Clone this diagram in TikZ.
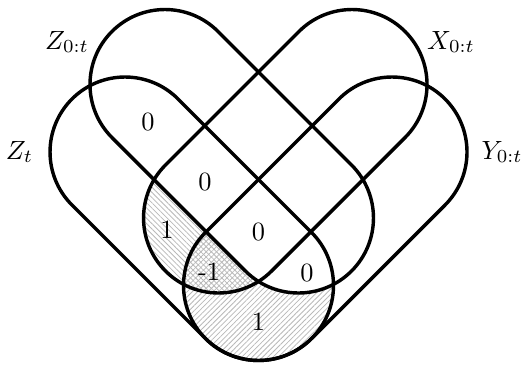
\documentclass[tikz,border=0pt]{standalone}
\usetikzlibrary{calc,patterns.meta}
\newcommand\stad[3]{($(#1)+({#3+90}:1)$) -- ($(#2)+({#3+90}:1)$) arc[start angle={#3+90}, end angle={#3-90}, radius=1] -- ($(#1)+({#3-90}:1)$) arc[start angle={#3-90}, end angle={#3-270}, radius=1] -- cycle}
\begin{document}
\begin{tikzpicture}[line width=1.3pt,
  hatchne/.style={pattern={Lines[angle=45,distance=1.4pt,line width=0.3pt]},pattern color=gray!55},
  hatchnw/.style={pattern={Lines[angle=-45,distance=1.4pt,line width=0.3pt]},pattern color=gray!55},
  lab/.style={inner sep=0pt}]
\useasboundingbox[fill=white] (-3.447,-1.047) rectangle (3.58,3.807);
\coordinate (C) at (0,0);
\coordinate (Zt) at (-1.78,1.78);
\coordinate (Y) at (1.78,1.78);
\coordinate (Za) at (-1.247,2.68);
\coordinate (Zb) at (0.533,0.9);
\coordinate (Xa) at (1.247,2.68);
\coordinate (Xb) at (-0.533,0.9);
% hatching
\begin{scope}
  \clip \stad{Zt}{C}{-45};
  \clip \stad{Xa}{Xb}{-135};
  \fill[hatchnw] (-4,-2) rectangle (4,4);
\end{scope}
\begin{scope}
  \clip \stad{Zt}{C}{-45};
  \clip \stad{Y}{C}{-135};
  \fill[hatchne] (-4,-2) rectangle (4,4);
\end{scope}
\fill[white] \stad{Za}{Zb}{-45};
% outlines
\draw \stad{Zt}{C}{-45};
\draw \stad{Y}{C}{-135};
\draw \stad{Za}{Zb}{-45};
\draw \stad{Xa}{Xb}{-135};
% set labels
\node[lab] (lZ0) at (-2.553,3.247) {$Z_{0:t}$};
\node[lab] (lX0) at (2.567,3.247) {$X_{0:t}$};
\node[lab] (lZt) at (-3.187,1.78) {$Z_t$};
\node[lab] (lY0) at (3.247,1.78) {$Y_{0:t}$};
% region values
\node[lab] (v1) at (-1.473,2.18) {0};
\node[lab] (v2) at (-0.713,1.38) {0};
\node[lab] (v3) at (-1.22,0.74) {1};
\node[lab] (v4) at (0,0.71) {0};
\node[lab] (v5) at (-0.66,0.18) {-1};
\node[lab] (v6) at (0.647,0.167) {0};
\node[lab] (v7) at (0,-0.487) {1};
\end{tikzpicture}
\end{document}
